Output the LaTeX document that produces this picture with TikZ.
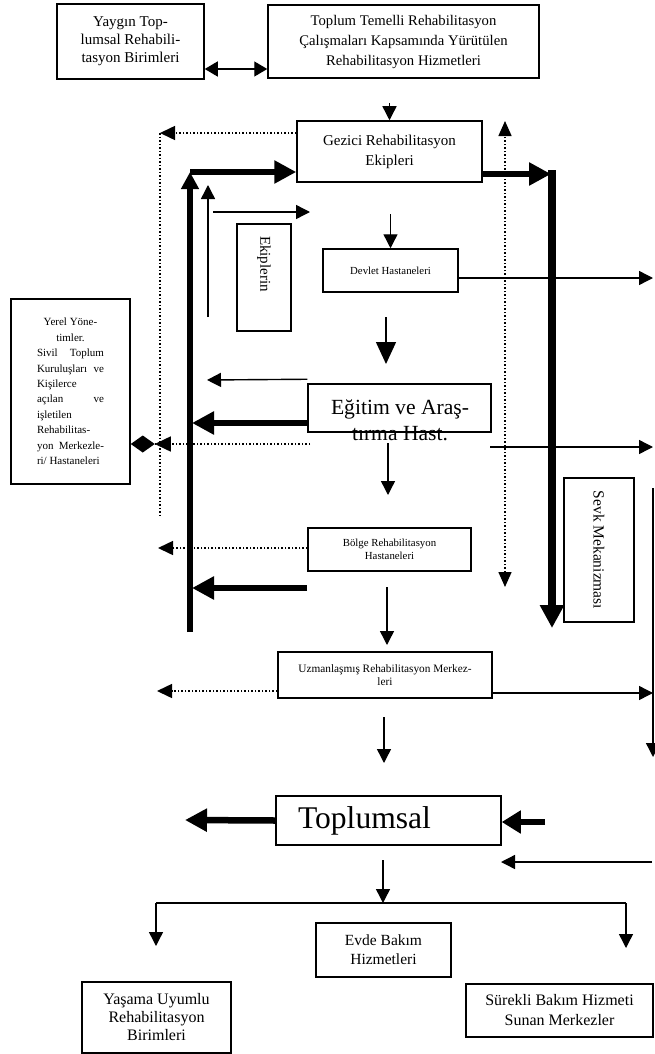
\documentclass[tikz,border=0pt]{standalone}
\usepackage{fontspec}
\setmainfont{Liberation Serif}
\usetikzlibrary{arrows.meta}
\usetikzlibrary{calc}
\tikzset{
	box/.style={draw, line width=1.5pt, inner sep=0pt, align=center},
	edge/.style={line width=1.4pt, -{Triangle[length=14pt,width=14pt]}},
	bigedge/.style={line width=6.5pt, -{Triangle[length=22pt,width=22pt]}},
	dotedge/.style={line width=1.5pt, dotted, -{Triangle[length=15pt,width=14pt]}},
	dotline/.style={line width=1.5pt, dotted}
}
\tikzset{
	txt/.style={font=\fontsize{15}{20}\selectfont},
	smalltxt/.style={font=\fontsize{10.8}{13}\selectfont}
}

\begin{document}
\begin{tikzpicture}[x=1pt, y=-1pt]
\useasboundingbox (0,0) rectangle (655,1054);

\node[box, font=\fontsize{15}{18}\selectfont, minimum width=147pt, minimum height=75pt] (yaygin) at (130.5,41.5) {Yaygın Top-\\lumsal Rehabili-\\tasyon Birimleri};
\node[box, font=\fontsize{14.7}{20}\selectfont, minimum width=271pt, minimum height=73pt] (toplum) at (403.5,41.5) {Toplum Temelli Rehabilitasyon\\Çalışmaları Kapsamında Yürütülen\\Rehabilitasyon Hizmetleri};
\node[box, txt, minimum width=185pt, minimum height=61pt] (gezici) at (389.5,151.5) {Gezici Rehabilitasyon\\Ekipleri};
\node[box, txt, rotate=-90, minimum width=107pt, minimum height=54pt, text width=83pt, inner xsep=12pt, align=left] (ekip) at (264,277.5) {Ekiplerin};
\node[box, smalltxt, minimum width=135pt, minimum height=43pt] (devlet) at (390.5,270.5) {Devlet Hastaneleri};
\node[box, minimum width=183pt, minimum height=48pt] (egitim) at (399.5,408) {};
\node[font=\fontsize{21.6}{26}\selectfont, align=center, inner sep=0pt] (egitimtxt) at (400,420) {Eğitim ve Araş-\\tırma Hast.};
\node[box, font=\fontsize{11}{15.4}\selectfont, align=left, minimum width=119pt, minimum height=185pt] (yerel) at (70.5,391.5) {\makebox[67pt]{Yerel Yöne-}\\\makebox[67pt]{timler.}\\\makebox[67pt][s]{Sivil Toplum}\\\makebox[67pt][s]{Kuruluşları ve}\\Kişilerce\\\makebox[67pt][s]{açılan ve}\\işletilen\\Rehabilitas-\\\makebox[67pt][s]{yon Merkezle-}\\ri/ Hastaneleri};
\node[box, smalltxt, minimum width=163pt, minimum height=43pt] (bolge) at (389.5,549.5) {Bölge Rehabilitasyon\\Hastaneleri};
\node[box, font=\fontsize{15.5}{18}\selectfont, rotate=-90, minimum width=144pt, minimum height=70pt] (sevk) at (599,550) {Sevk Mekanizması};
\node[box, font=\fontsize{11.3}{13}\selectfont, minimum width=214pt, minimum height=46pt] (uzman) at (385,675) {Uzmanlaşmış Rehabilitasyon Merkez-\\leri};
\node[box, font=\fontsize{31.6}{36}\selectfont, minimum width=225pt, minimum height=49pt, text width=181pt, inner xsep=22pt, align=left] (toplumsal) at (388.5,820.5) {Toplumsal};
\node[box, font=\fontsize{15.5}{19}\selectfont, minimum width=135pt, minimum height=54pt] (evde) at (383.5,950) {Evde Bakım\\Hizmetleri};
\node[box, font=\fontsize{16}{18}\selectfont, minimum width=149pt, minimum height=71pt] (yasama) at (156.5,1017.5) {Yaşama Uyumlu\\Rehabilitasyon\\Birimleri};
\node[box, font=\fontsize{16}{20}\selectfont, minimum width=187pt, minimum height=53pt] (surekli) at (559.5,1010.5) {Sürekli Bakım Hizmeti\\Sunan Merkezler};

\coordinate (g0) at (389.5,103);
\coordinate (d1) at (160,133);
\coordinate (d2) at (160,517);
\coordinate (t1) at (190,632);
\coordinate (t2) at (190,172);
\coordinate (u1) at (208,317);
\coordinate (u2) at (208,185);
\coordinate (r1) at (213,212);
\coordinate (r2) at (310,212);
\coordinate (v0) at (390.5,214);
\coordinate (e1) at (653,278);
\coordinate (v1) at (386,317);
\coordinate (v2) at (386,364);
\coordinate (l1) at (207,380);
\coordinate (l2) at (192,423);
\coordinate (l3) at (310,444);
\coordinate (e2) at (490,447);
\coordinate (e3) at (653,447);
\coordinate (v3) at (388,443);
\coordinate (v4) at (388,495);
\coordinate (l4) at (158,548);
\coordinate (b1) at (307,588);
\coordinate (l5) at (192,588);
\coordinate (s1) at (505,121);
\coordinate (s2) at (505,587);
\coordinate (k1) at (551,174);
\coordinate (k2) at (552,170);
\coordinate (k3) at (552,628);
\coordinate (q1) at (653,488);
\coordinate (q2) at (653,757);
\coordinate (q3) at (653,693);
\coordinate (v5) at (387,587);
\coordinate (v6) at (387,645);
\coordinate (l6) at (157,691);
\coordinate (v7) at (384,717);
\coordinate (v8) at (384,763);
\coordinate (l7) at (185,820);
\coordinate (m1) at (545,822);
\coordinate (m2) at (652,862);
\coordinate (m3) at (501,862);
\coordinate (v9) at (383,860);
\coordinate (h0) at (383,903);
\coordinate (h1) at (156,903);
\coordinate (h2) at (626,903);
\coordinate (h3) at (156,946);
\coordinate (h4) at (626,948);

\draw[edge, {Triangle[length=13pt,width=15pt]}-{Triangle[length=13pt,width=15pt]}] ([yshift=-27.5pt]yaygin.east) to ([yshift=-27.5pt]toplum.west);
\draw[edge] (g0) to (gezici.north);
\draw[dotedge] ([yshift=18.5pt]gezici.west) to (d1);
\draw[dotline] (d1) to (d2);
\draw[bigedge, -{Triangle[length=17pt,width=17pt]}] (t1) to (t2);
\draw[bigedge] (t2) to ([yshift=-20.5pt]gezici.west);
\draw[edge] (u1) to (u2);
\draw[edge] (r1) to (r2);
\draw[edge] (v0) to (devlet.north);
\draw[edge] ([yshift=-7.5pt]devlet.east) to (e1);
\draw[edge, -{Triangle[length=22pt,width=20pt]}] (v1) to (v2);
\draw[edge] ([yshift=4pt]egitim.north west) to (l1);
\draw[bigedge] ([yshift=-15pt]egitim.west) to (l2);
\draw[dotedge, -{Triangle[length=16pt,width=15pt] Diamond[length=24pt,width=17pt]}] (l3) to ([yshift=-52.5pt]yerel.east);
\draw[edge] (e2) to (e3);
\draw[edge] (v3) to (v4);
\draw[dotedge] ([yshift=1.5pt]bolge.west) to (l4);
\draw[bigedge] (b1) to (l5);
\draw[dotedge, {Triangle[length=15pt,width=13pt]}-{Triangle[length=15pt,width=13pt]}] (s2) to (s1);
\draw[bigedge] ([yshift=-22.5pt]gezici.east) to (k1);
\draw[bigedge, line width=7.5pt, -{Triangle[length=23pt,width=23pt]}] (k2) to (k3);
\draw[edge] (q1) to (q2);
\draw[edge] ([yshift=-18pt]uzman.east) to (q3);
\draw[edge] (v5) to (v6);
\draw[dotedge] ([yshift=-16pt]uzman.west) to (l6);
\draw[edge] (v7) to (v8);
\draw[bigedge] (toplumsal.west) to (l7);
\draw[bigedge, -{Triangle[length=19pt,width=22pt]}] (m1) to ([yshift=-1.5pt]toplumsal.east);
\draw[edge] (m2) to (m3);
\draw[edge] (v9) to (h0);
\draw[line width=1.4pt] (h1) to (h2);
\draw[edge] (h1) to (h3);
\draw[edge] (h2) to (h4);
\end{tikzpicture}
\end{document}
